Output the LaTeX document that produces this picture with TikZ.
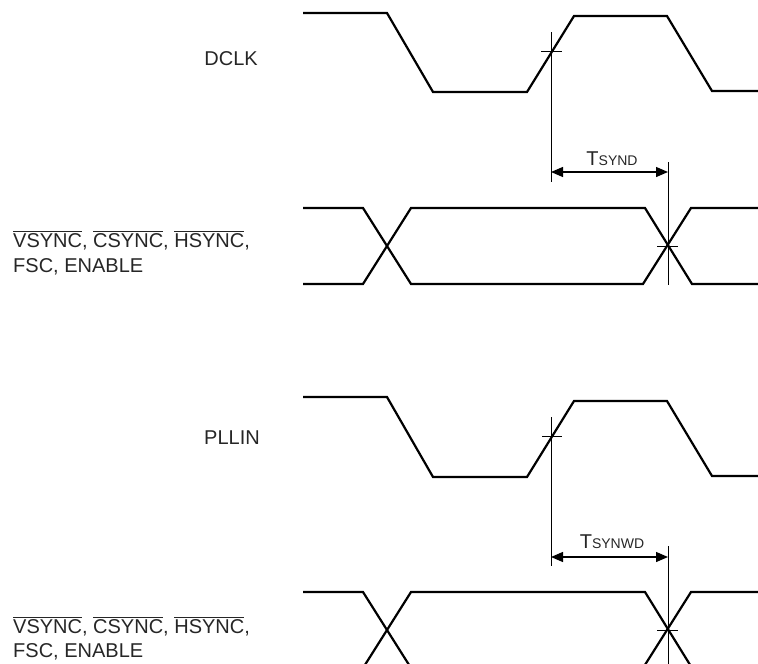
\documentclass[tikz,border=0pt]{standalone}
\usepackage{fontspec}
\setmainfont{Liberation Sans}
\usetikzlibrary{arrows.meta}
\newcommand\ovl[1]{$\overline{\hbox{#1}}$}
\newcommand\subsz[1]{{\fontsize{14}{14}\selectfont #1}}
\begin{document}
\begin{tikzpicture}[x=1pt,y=-1pt,
  wave/.style={line width=2.2pt,line join=miter},
  guide/.style={line width=0.9pt},
  dimarrow/.style={line width=1.3pt,{Triangle[length=12pt,width=10pt]}-{Triangle[length=12pt,width=10pt]}},
  lbl/.style={inner sep=0pt,font=\fontsize{20}{25}\selectfont,text=black!85},
  tlbl/.style={inner sep=0pt,font=\fontsize{20}{20}\selectfont,text=black!85}]
\useasboundingbox (0,0) rectangle (758,664);
\clip (0,0) rectangle (758,664);
% ---------- top group ----------
\node[lbl,anchor=base east] (dclk) at (258,65) {DCLK};
\draw[wave] (303,13) -- (387,13) -- (433,92) -- (527,92) -- (574,16) -- (667,16) -- (712,91) -- (758,91);
\node[lbl,anchor=base west] (l1a) at (13,247) {\ovl{VSYNC}, \ovl{CSYNC}, \ovl{HSYNC},};
\node[lbl,anchor=base west] (l1b) at (13,272) {FSC, ENABLE};
\draw[wave] (303,208) -- (363,208) -- (411,284) -- (643,284) -- (691,208) -- (758,208);
\draw[wave] (303,284) -- (363,284) -- (411,208) -- (645,208) -- (692,284) -- (758,284);
\coordinate (a1) at (551,32);
\coordinate (a2) at (551,182);
\coordinate (b1) at (668,162);
\coordinate (b2) at (668,285);
\draw[guide] (a1) -- (a2);
\draw[guide] (b1) -- (b2);
\draw[guide] (541,51) -- (562,51);
\draw[guide] (657,246) -- (678,246);
\coordinate (ar1) at (551,172);
\coordinate (ar2) at (668,172);
\draw[dimarrow] (ar1) -- (ar2);
\node[tlbl,anchor=base] (tsynd) at (612,165) {T\subsz{SYND}};
% ---------- bottom group ----------
\node[lbl,anchor=base east] (pllin) at (260,444) {PLLIN};
\draw[wave] (303,397) -- (387,397) -- (433,477) -- (527,477) -- (574,401) -- (667,401) -- (712,476) -- (758,476);
\node[lbl,anchor=base west] (l2a) at (13,633) {\ovl{VSYNC}, \ovl{CSYNC}, \ovl{HSYNC},};
\node[lbl,anchor=base west] (l2b) at (13,657) {FSC, ENABLE};
\draw[wave] (303,592) -- (363,592) -- (411,668) -- (643,668) -- (691,592) -- (758,592);
\draw[wave] (303,668) -- (363,668) -- (411,592) -- (645,592) -- (692,668) -- (758,668);
\coordinate (c1) at (551,417);
\coordinate (c2) at (551,566);
\coordinate (d1) at (668,546);
\coordinate (d2) at (668,670);
\draw[guide] (c1) -- (c2);
\draw[guide] (d1) -- (d2);
\draw[guide] (542,436) -- (562,436);
\draw[guide] (657,630) -- (678,630);
\coordinate (ar3) at (551,557);
\coordinate (ar4) at (668,557);
\draw[dimarrow] (ar3) -- (ar4);
\node[tlbl,anchor=base] (tsynwd) at (612,548) {T\subsz{SYNWD}};
\end{tikzpicture}
\end{document}
